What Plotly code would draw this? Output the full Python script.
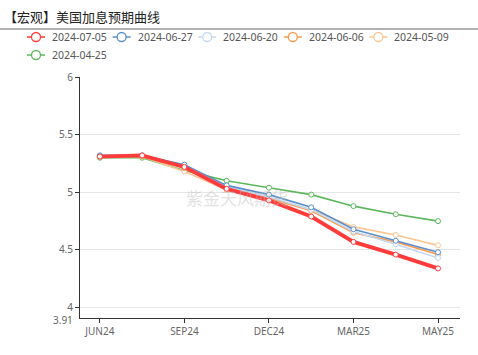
import plotly.graph_objects as go

categories = ["JUN24", "JUL24", "SEP24", "NOV24", "DEC24", "JAN25", "MAR25", "APR25", "MAY25"]
tick_labels = ["JUN24", "SEP24", "DEC24", "MAR25", "MAY25"]

series_names = ["2024-07-05", "2024-06-27", "2024-06-20", "2024-06-06", "2024-05-09", "2024-04-25"]
s_0705 = [5.31, 5.32, 5.22, 5.03, 4.93, 4.79, 4.57, 4.46, 4.34]
s_0627 = [5.32, 5.32, 5.24, 5.06, 4.98, 4.87, 4.68, 4.58, 4.48]
s_0620 = [5.32, 5.32, 5.23, 5.05, 4.96, 4.85, 4.66, 4.55, 4.43]
s_0606 = [5.31, 5.31, 5.21, 5.04, 4.95, 4.84, 4.65, 4.57, 4.46]
s_0509 = [5.31, 5.31, 5.18, 5.02, 4.94, 4.85, 4.70, 4.63, 4.54]
s_0425 = [5.30, 5.30, 5.19, 5.10, 5.04, 4.98, 4.88, 4.81, 4.75]
series_values = [s_0705, s_0627, s_0620, s_0606, s_0509, s_0425]

colors = ["#ff3b3b", "#5b8fc8", "#c4d8f0", "#fd9a4c", "#fdc693", "#5cb85c"]
widths = [3.8, 1.6, 1.6, 1.6, 1.6, 1.6]

y_min = 3.91
y_ticks = [4, 4.5, 5, 5.5, 6]
y_ticktext = ["4", "4.5", "5", "5.5", "6"]

fig = go.Figure()
# plotted lines (drawn so the newest curve sits on top)
for i in reversed(range(len(series_names))):
    fig.add_trace(go.Scatter(
        x=categories, y=series_values[i], name=series_names[i],
        mode="lines+markers", showlegend=False,
        line=dict(color=colors[i], width=widths[i]),
        marker=dict(symbol="circle", size=5, color="white",
                    line=dict(color=colors[i], width=1)),
    ))

W, H = 478, 355
L, R, T, B = 80, 18, 77, 37
pw, ph = W - L - R, H - T - B

def px_to_paper_x(px):
    return (px - L) / pw

def px_to_paper_y(py):
    return (H - B - py) / ph

shapes = [dict(
    type="line", xref="paper", yref="paper",
    x0=px_to_paper_x(0), x1=px_to_paper_x(W),
    y0=px_to_paper_y(29), y1=px_to_paper_y(29),
    line=dict(color="#999", width=1.5),
)]
annotations = [
    dict(
        text="紫金天风期货", xref="paper", yref="paper",
        x=px_to_paper_x(237), y=px_to_paper_y(197),
        xanchor="center", yanchor="middle", showarrow=False,
        font=dict(family="Noto Sans CJK SC", size=17, color="rgba(190,190,190,0.45)"),
    ),
    # axis minimum label
    dict(
        text=f"{y_min}", xref="paper", yref="y",
        x=px_to_paper_x(75), y=y_min, yshift=-2,
        xanchor="right", yanchor="middle", showarrow=False,
        font=dict(family="Noto Sans", size=10, color="#666"),
    ),
]

# legend drawn as shapes + text (two rows, five per row)
for i, name in enumerate(series_names):
    row, col = divmod(i, 5)
    sx = 27 + col * 85.6
    sy = 37 + row * 18
    shapes.append(dict(
        type="line", xref="paper", yref="paper",
        x0=px_to_paper_x(sx), x1=px_to_paper_x(sx + 18),
        y0=px_to_paper_y(sy), y1=px_to_paper_y(sy),
        line=dict(color=colors[i], width=1.5),
    ))
    shapes.append(dict(
        type="circle", xref="paper", yref="paper",
        x0=px_to_paper_x(sx + 4.5), x1=px_to_paper_x(sx + 13.5),
        y0=px_to_paper_y(sy - 4.5), y1=px_to_paper_y(sy + 4.5),
        fillcolor="white", line=dict(color=colors[i], width=1.3),
    ))
    annotations.append(dict(
        text=name, xref="paper", yref="paper",
        x=px_to_paper_x(sx + 23), y=px_to_paper_y(sy),
        xanchor="left", yanchor="middle", showarrow=False,
        font=dict(family="Noto Sans", size=10.5, color="#555"),
    ))

fig.update_layout(
    width=W, height=H,
    margin=dict(l=L, r=R, t=T, b=B),
    plot_bgcolor="white", paper_bgcolor="white",
    font=dict(family="Noto Sans, Noto Sans CJK SC", size=11, color="#666"),
    showlegend=False,
    title=dict(
        text="【宏观】美国加息预期曲线",
        font=dict(family="Noto Sans CJK SC", size=13, color="#222"),
        xref="container", x=4 / W, xanchor="left",
        yref="container", y=1 - 17 / H, yanchor="middle",
    ),
    xaxis=dict(
        type="category",
        range=[-0.47, 8.52],
        tickmode="array", tickvals=tick_labels, ticktext=tick_labels,
        showline=True, linecolor="#333", linewidth=1,
        ticks="outside", ticklen=4, tickcolor="#333",
        showgrid=False, zeroline=False,
        tickfont=dict(size=10, color="#666"),
    ),
    yaxis=dict(
        range=[y_min, 6],
        tickmode="array", tickvals=y_ticks, ticktext=y_ticktext,
        showline=True, linecolor="#333", linewidth=1,
        ticks="outside", ticklen=4, tickcolor="#333",
        showgrid=True, gridcolor="#e6e6e6", gridwidth=1,
        zeroline=False,
        tickfont=dict(size=10, color="#666"),
    ),
    shapes=shapes,
    annotations=annotations,
)

fig.write_html("out.html")
